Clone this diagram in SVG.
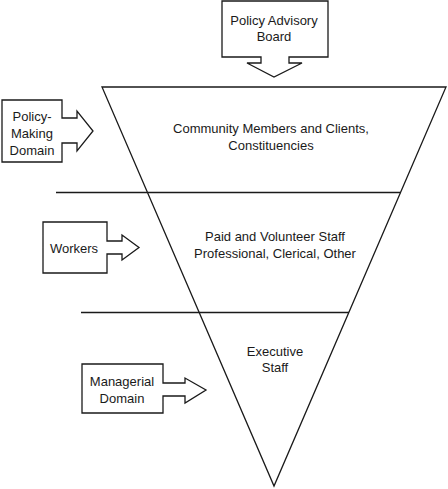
<svg xmlns="http://www.w3.org/2000/svg" width="448" height="489" viewBox="0 0 448 489">
<style>
.shape{fill:#fff;stroke:#1a1a1a;stroke-width:1.3;stroke-linejoin:miter}
.line{fill:none;stroke:#1a1a1a;stroke-width:1.3}
text{font-family:"Liberation Sans",Arial,sans-serif;font-size:13px;fill:#1a1a1a;text-anchor:middle}
</style>
<rect width="448" height="489" fill="#fff"/>
<g id="pyramid">
<polygon class="shape" points="102,87 446,87 274,486"/>
</g>
<g id="connectors">
<line class="line" x1="56" y1="192.5" x2="401" y2="192.5"/>
<line class="line" x1="81" y1="312.5" x2="349" y2="312.5"/>
</g>
<g id="community">
<text x="271" y="133">Community Members and Clients,</text>
<text x="271" y="150">Constituencies</text>
</g>
<g id="staff">
<text x="275" y="241">Paid and Volunteer Staff</text>
<text x="275" y="258">Professional, Clerical, Other</text>
</g>
<g id="executive">
<text x="275" y="356">Executive</text>
<text x="275" y="372">Staff</text>
</g>
<g id="policy-advisory-board">
<path class="shape" d="M222,1 H328 V57 H289 V63 H302 L274,77 L247,63 H261 V57 H222 Z"/>
<text x="274" y="25">Policy Advisory</text>
<text x="274" y="41">Board</text>
</g>
<g id="policy-making-domain">
<path class="shape" d="M2,100 H62 V118 H77 V111 L93,131 L77,151 V143 H62 V162 H2 Z"/>
<text x="32" y="121">Policy-</text>
<text x="32" y="138">Making</text>
<text x="32" y="155">Domain</text>
</g>
<g id="workers">
<path class="shape" d="M43,222 H107 V241 H122 V235 L139,247.5 L122,260 V254 H107 V273 H43 Z"/>
<text x="74" y="252.5">Workers</text>
</g>
<g id="managerial-domain">
<path class="shape" d="M82,364 H163 V383 H185 V378 L206,390 L185,403 V396 H163 V413 H82 Z"/>
<text x="122" y="386">Managerial</text>
<text x="122" y="403">Domain</text>
</g>
</svg>
